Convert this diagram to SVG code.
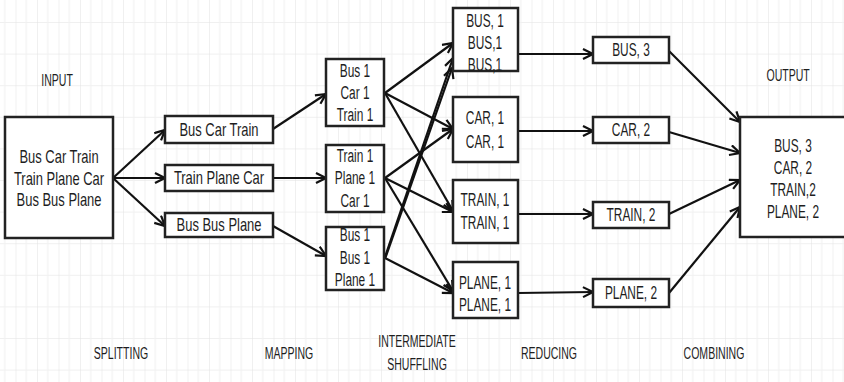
<svg xmlns="http://www.w3.org/2000/svg" width="844" height="382" viewBox="0 0 844 382">
<defs>
<pattern id="grid" x="15.5" y="22" width="21.5" height="31.6" patternUnits="userSpaceOnUse">
<path d="M0,0 V31.6 M0,0 H21.5" fill="none" stroke="#e2e2e2" stroke-width="1"/>
<path d="M10.75,0 V31.6" fill="none" stroke="#f0f0f0" stroke-width="1"/>
</pattern>
<marker id="arr" markerUnits="userSpaceOnUse" markerWidth="14" markerHeight="14" refX="11" refY="6" orient="auto">
<path d="M1,1 L11,6 L1,11" fill="none" stroke="#111" stroke-width="2.2"/>
</marker>
</defs>
<style>
.box{fill:#fff;stroke:#222;stroke-width:2.5}
.t{font-family:"Liberation Sans",Arial,sans-serif;font-size:18px;fill:#1e1e1e;text-anchor:middle;transform-box:fill-box;transform-origin:center;transform:scaleX(0.72)}
.n{transform:scaleX(0.66)}
.lbl{font-size:17px;transform:scaleX(0.62)}
.c line{stroke:#111;stroke-width:2.2;marker-end:url(#arr)}
</style>
<rect width="844" height="382" fill="#fff"/>
<rect width="844" height="382" fill="url(#grid)"/>

<g id="labels">
<text class="t lbl" x="57" y="86">INPUT</text>
<text class="t lbl" x="788" y="81">OUTPUT</text>
<text class="t lbl" x="121" y="359">SPLITTING</text>
<text class="t lbl" x="289" y="359">MAPPING</text>
<text class="t lbl" x="417" y="347">INTERMEDIATE</text>
<text class="t lbl" x="417" y="370">SHUFFLING</text>
<text class="t lbl" x="549" y="359">REDUCING</text>
<text class="t lbl" x="714" y="359">COMBINING</text>
</g>

<g class="c" id="connectors">
<line x1="113" y1="178" x2="165" y2="130"/>
<line x1="113" y1="178" x2="165" y2="178"/>
<line x1="113" y1="178" x2="165" y2="226"/>
<line x1="273" y1="129" x2="326" y2="94"/>
<line x1="273" y1="178" x2="326" y2="178"/>
<line x1="273" y1="226" x2="326" y2="256"/>
<line x1="385" y1="93" x2="453" y2="43"/>
<line x1="385" y1="93" x2="453" y2="129"/>
<line x1="385" y1="93" x2="453" y2="211"/>
<line x1="385" y1="178" x2="453" y2="129"/>
<line x1="385" y1="178" x2="453" y2="212"/>
<line x1="385" y1="178" x2="453" y2="291"/>
<line x1="385" y1="257" x2="453" y2="58"/>
<line x1="385" y1="259" x2="452" y2="68"/>
<line x1="385" y1="258" x2="453" y2="293"/>
<line x1="518" y1="54" x2="593" y2="54"/>
<line x1="518" y1="131" x2="593" y2="131"/>
<line x1="518" y1="214" x2="593" y2="214"/>
<line x1="518" y1="293" x2="593" y2="292"/>
<line x1="669" y1="51" x2="740" y2="122"/>
<line x1="669" y1="132" x2="740" y2="153"/>
<line x1="669" y1="214" x2="740" y2="180"/>
<line x1="669" y1="293" x2="740" y2="207"/>
</g>

<g id="input">
<rect class="box" x="5" y="117" width="108" height="121"/>
<text class="t" x="59" y="163">Bus Car Train</text>
<text class="t" x="59" y="185">Train Plane Car</text>
<text class="t" x="59" y="206">Bus Bus Plane</text>
</g>

<g id="split1"><rect class="box" x="165" y="116" width="108" height="27"/><text class="t" x="219" y="136">Bus Car Train</text></g>
<g id="split2"><rect class="box" x="165" y="165" width="108" height="26"/><text class="t" x="219" y="184">Train Plane Car</text></g>
<g id="split3"><rect class="box" x="165" y="213" width="108" height="24"/><text class="t" x="219" y="231">Bus Bus Plane</text></g>

<g id="map1"><rect class="box" x="326" y="59" width="58" height="67"/>
<text class="t n" x="355" y="77">Bus 1</text><text class="t n" x="355" y="99">Car 1</text><text class="t n" x="355" y="121">Train 1</text></g>
<g id="map2"><rect class="box" x="326" y="145" width="58" height="67"/>
<text class="t n" x="355" y="162">Train 1</text><text class="t n" x="355" y="184">Plane 1</text><text class="t n" x="355" y="207">Car 1</text></g>
<g id="map3"><rect class="box" x="326" y="227" width="58" height="63"/>
<text class="t n" x="355" y="241">Bus 1</text><text class="t n" x="355" y="264">Bus 1</text><text class="t n" x="355" y="286">Plane 1</text></g>

<g id="shufBus"><rect class="box" x="453" y="8" width="65" height="63"/>
<text class="t n" x="485" y="27">BUS, 1</text><text class="t n" x="485" y="49">BUS,1</text><text class="t n" x="485" y="71">BUS,1</text></g>
<g id="shufCar"><rect class="box" x="453" y="97" width="65" height="65"/>
<text class="t n" x="485" y="124">CAR, 1</text><text class="t n" x="485" y="148">CAR, 1</text></g>
<g id="shufTrain"><rect class="box" x="453" y="180" width="65" height="63"/>
<text class="t n" x="485" y="206">TRAIN, 1</text><text class="t n" x="485" y="229">TRAIN, 1</text></g>
<g id="shufPlane"><rect class="box" x="453" y="262" width="65" height="56"/>
<text class="t n" x="485" y="289">PLANE, 1</text><text class="t n" x="485" y="311">PLANE, 1</text></g>

<g id="redBus"><rect class="box" x="593" y="37" width="76" height="26"/><text class="t n" x="631" y="56">BUS, 3</text></g>
<g id="redCar"><rect class="box" x="593" y="117" width="76" height="26"/><text class="t n" x="631" y="136">CAR, 2</text></g>
<g id="redTrain"><rect class="box" x="593" y="202" width="76" height="26"/><text class="t n" x="631" y="221">TRAIN, 2</text></g>
<g id="redPlane"><rect class="box" x="593" y="279" width="76" height="28"/><text class="t n" x="631" y="299">PLANE, 2</text></g>

<g id="output"><rect class="box" x="740" y="117" width="106" height="120"/>
<text class="t n" x="793" y="152">BUS, 3</text><text class="t n" x="793" y="174">CAR, 2</text><text class="t n" x="793" y="196">TRAIN,2</text><text class="t n" x="793" y="218">PLANE, 2</text></g>
</svg>
